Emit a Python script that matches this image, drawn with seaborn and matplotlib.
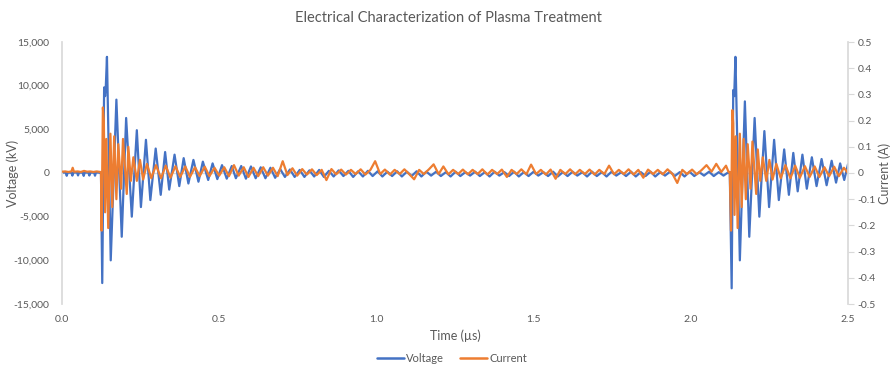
import matplotlib
matplotlib.use("Agg")
import matplotlib.pyplot as plt
from matplotlib.lines import Line2D
from matplotlib.ticker import FuncFormatter
import seaborn as sns
import pandas as pd

# ---------------- data (time in µs) ----------------
voltage_pre = [(0.000, 50), (0.012, 50), (0.015, -320), (0.018, 50), (0.030, 40), (0.033, -300),
               (0.036, 50), (0.048, 60), (0.051, -280), (0.054, 50), (0.066, 40), (0.069, -330),
               (0.072, 50), (0.084, 50), (0.087, -290), (0.090, 40), (0.102, 50), (0.105, -310),
               (0.108, 60), (0.120, 40)]

voltage_burst1 = [(0.124, 0), (0.128, -12600), (0.134, 9800), (0.137, 8800), (0.139, 9600),
                  (0.143, 13300), (0.155, -10000), (0.173, 8400), (0.190, -7300), (0.204, 6300),
                  (0.222, -5000), (0.238, 4900), (0.251, -3900), (0.267, 3800), (0.281, -3100),
                  (0.298, 2800), (0.314, -2500), (0.328, 2400), (0.341, -1900), (0.358, 2100),
                  (0.373, -1500), (0.387, 1700), (0.402, -1200), (0.418, 1500), (0.434, -1000),
                  (0.448, 1300), (0.465, -800), (0.479, 1100), (0.494, -700), (0.509, 900),
                  (0.524, -650), (0.540, 800), (0.553, -600), (0.570, 800), (0.585, -650),
                  (0.601, 750), (0.616, -600), (0.632, 650), (0.647, -600), (0.663, 600),
                  (0.678, -550), (0.694, 450), (0.709, -450), (0.725, 400), (0.740, -450)]

voltage_quiet = [(0.756, 350), (0.771, -450), (0.787, 300), (0.802, -400), (0.818, 350), (0.833, -450),
                 (0.849, 250), (0.864, -400), (0.880, 300), (0.895, -350), (0.911, 250), (0.926, -450),
                 (0.942, 200), (0.957, -400), (0.973, 250), (0.988, -350), (1.004, 200), (1.019, -400),
                 (1.035, 150), (1.050, -350), (1.066, 200), (1.081, -400), (1.097, 150), (1.112, -350),
                 (1.128, 200), (1.143, -400), (1.159, 150), (1.174, -300), (1.190, 150), (1.205, -350),
                 (1.221, 100), (1.236, -400), (1.252, 150), (1.267, -350), (1.283, 100), (1.298, -300),
                 (1.314, 150), (1.329, -350), (1.345, 100), (1.360, -400), (1.376, 150), (1.391, -300),
                 (1.407, 100), (1.422, -350), (1.438, 150), (1.453, -400), (1.469, 100), (1.484, -350),
                 (1.500, 150), (1.515, -300), (1.531, 100), (1.546, -350), (1.562, 150), (1.577, -400),
                 (1.593, 100), (1.608, -350), (1.624, 150), (1.639, -300), (1.655, 100), (1.670, -400),
                 (1.686, 150), (1.701, -350), (1.717, 100), (1.732, -400), (1.748, 150), (1.763, -300),
                 (1.779, 100), (1.794, -350), (1.810, 150), (1.825, -400), (1.841, 100), (1.856, -350),
                 (1.872, 150), (1.887, -400), (1.903, 100), (1.918, -300), (1.934, 150), (1.949, -350),
                 (1.965, 100), (1.980, -400), (1.996, 150), (2.011, -350), (2.027, 100), (2.042, -300),
                 (2.058, 150), (2.073, -350), (2.089, 100), (2.104, -300), (2.118, 50)]

voltage_burst2 = [(2.124, 0), (2.130, -13200), (2.135, 9500), (2.138, 8800), (2.142, 13300),
                  (2.156, -10000), (2.172, 8200), (2.186, -7300), (2.203, 6300), (2.218, -5000),
                  (2.234, 4800), (2.249, -3900), (2.265, 3800), (2.280, -3100), (2.297, 2700),
                  (2.312, -2500), (2.326, 2300), (2.340, -2100), (2.355, 2100), (2.369, -1800),
                  (2.385, 1800), (2.400, -1500), (2.416, 1600), (2.432, -1400), (2.448, 1400),
                  (2.462, -1100), (2.475, 1100), (2.488, -800), (2.500, 1000)]

current_pre = [(0.000, 0.005), (0.010, 0.006), (0.020, 0.004), (0.030, 0.006), (0.034, 0.020),
               (0.038, 0.005), (0.050, 0.006), (0.060, 0.004), (0.070, 0.008), (0.080, 0.005),
               (0.090, 0.006), (0.100, 0.004), (0.110, 0.006), (0.122, 0.004)]

current_burst1 = [(0.124, 0.0), (0.126, -0.22), (0.130, 0.25), (0.133, 0.20), (0.137, -0.15),
                  (0.141, 0.13), (0.147, -0.21), (0.154, 0.15), (0.160, -0.13), (0.166, 0.14),
                  (0.173, -0.10), (0.179, 0.11), (0.188, -0.06), (0.194, 0.13), (0.206, -0.08),
                  (0.211, 0.10), (0.219, -0.03), (0.227, 0.06), (0.238, -0.03), (0.248, 0.05),
                  (0.258, -0.025), (0.270, 0.035), (0.284, -0.02), (0.299, 0.03), (0.315, -0.02),
                  (0.330, 0.028), (0.345, -0.018), (0.361, 0.026), (0.376, -0.015), (0.392, 0.025),
                  (0.407, -0.015), (0.423, 0.022), (0.438, -0.012), (0.454, 0.024), (0.469, -0.012),
                  (0.485, 0.020), (0.500, -0.010), (0.516, 0.022), (0.531, -0.012), (0.547, 0.030),
                  (0.562, -0.010), (0.578, 0.022), (0.593, -0.015), (0.609, 0.020), (0.624, -0.012),
                  (0.640, 0.022), (0.655, -0.010), (0.671, 0.020), (0.686, -0.012), (0.702, 0.045),
                  (0.717, -0.008), (0.733, 0.018), (0.748, -0.010)]

current_quiet = [(0.764, 0.015), (0.779, -0.006), (0.795, 0.014), (0.810, -0.008), (0.826, 0.012),
                 (0.841, -0.027), (0.857, 0.015), (0.872, -0.005), (0.888, 0.013), (0.903, -0.006),
                 (0.919, 0.012), (0.934, -0.004), (0.950, 0.014), (0.965, -0.006), (0.981, 0.012),
                 (0.996, 0.045), (1.012, -0.004), (1.027, 0.013), (1.043, -0.006), (1.058, 0.012),
                 (1.074, -0.004), (1.089, 0.014), (1.105, -0.005), (1.120, -0.024), (1.136, 0.012),
                 (1.151, -0.004), (1.167, 0.014), (1.182, 0.033), (1.198, -0.004), (1.213, 0.025),
                 (1.229, -0.005), (1.244, 0.012), (1.260, -0.004), (1.275, 0.013), (1.291, -0.005),
                 (1.306, 0.012), (1.322, -0.004), (1.337, 0.014), (1.353, -0.006), (1.368, 0.012),
                 (1.384, -0.004), (1.399, 0.013), (1.415, -0.015), (1.430, 0.012), (1.446, -0.004),
                 (1.461, 0.014), (1.477, -0.005), (1.492, 0.032), (1.508, -0.004), (1.523, 0.012),
                 (1.539, -0.006), (1.554, 0.013), (1.570, -0.022), (1.585, 0.012), (1.601, -0.004),
                 (1.616, 0.014), (1.632, -0.005), (1.647, 0.012), (1.663, -0.004), (1.678, 0.013),
                 (1.694, -0.006), (1.709, 0.012), (1.725, -0.004), (1.740, 0.028), (1.756, -0.005),
                 (1.771, 0.012), (1.787, -0.004), (1.802, 0.014), (1.818, -0.006), (1.833, 0.012),
                 (1.849, -0.018), (1.864, 0.013), (1.880, -0.004), (1.895, 0.012), (1.911, -0.005),
                 (1.926, 0.014), (1.942, -0.004), (1.957, -0.038), (1.973, 0.012), (1.988, -0.004),
                 (2.004, 0.013), (2.019, -0.005), (2.035, 0.012), (2.050, 0.030), (2.066, 0.005),
                 (2.081, 0.035), (2.097, 0.004), (2.112, 0.028), (2.120, 0.004)]

current_burst2 = [(2.124, 0.004), (2.128, -0.22), (2.132, 0.24), (2.135, 0.19), (2.139, -0.16),
                  (2.143, 0.14), (2.149, -0.21), (2.156, 0.15), (2.162, -0.13), (2.168, 0.13),
                  (2.175, -0.10), (2.181, 0.11), (2.190, -0.06), (2.196, 0.12), (2.208, -0.08),
                  (2.213, 0.09), (2.221, -0.03), (2.229, 0.06), (2.240, -0.03), (2.250, 0.05),
                  (2.260, -0.025), (2.272, 0.035), (2.286, -0.02), (2.301, 0.03), (2.317, -0.02),
                  (2.332, 0.028), (2.347, -0.018), (2.363, 0.026), (2.378, -0.015), (2.394, 0.025),
                  (2.409, -0.015), (2.425, 0.022), (2.440, -0.012), (2.456, 0.024), (2.471, -0.012),
                  (2.487, 0.020), (2.500, 0.0)]

x_ticks = [0.0, 0.5, 1.0, 1.5, 2.0, 2.5]
v_ticks = [-15000, -10000, -5000, 0, 5000, 10000, 15000]
i_ticks = [-0.5, -0.4, -0.3, -0.2, -0.1, 0.0, 0.1, 0.2, 0.3, 0.4, 0.5]

title = "Electrical Characterization of Plasma Treatment"

# ---------------- build frames ----------------
vdf = pd.DataFrame(voltage_pre + voltage_burst1 + voltage_quiet + voltage_burst2,
                   columns=["time", "voltage"])
idf = pd.DataFrame(current_pre + current_burst1 + current_quiet + current_burst2,
                   columns=["time", "current"])

# ---------------- styling ----------------
sns.set_theme(style="white")
plt.rcParams["font.family"] = ["Lato", "DejaVu Sans"]

BLUE = "#4472C4"
ORANGE = "#ED7D31"
GRID = "#D9D9D9"
TXT = "#595959"

fig = plt.figure(figsize=(8.95, 3.67), dpi=100)
ax = fig.add_axes([62 / 895, 1 - 304 / 367, (848 - 62) / 895, (304 - 42) / 367])
ax2 = ax.twinx()

ax.axhline(0, color=GRID, lw=1, zorder=0)
sns.lineplot(data=vdf, x="time", y="voltage", ax=ax, color=BLUE, lw=1.6,
             estimator=None, sort=False)
sns.lineplot(data=idf, x="time", y="current", ax=ax2, color=ORANGE, lw=1.6,
             estimator=None, sort=False)

ax.set_xlim(0, 2.5)
ax.set_ylim(-15000, 15000)
ax2.set_ylim(-0.5, 0.5)
ax.set_xticks(x_ticks)
ax.set_yticks(v_ticks)
ax2.set_yticks(i_ticks)
ax.xaxis.set_major_formatter(FuncFormatter(lambda v, p: f"{v:.1f}"))
ax.yaxis.set_major_formatter(FuncFormatter(lambda v, p: f"{int(v):,}"))
ax2.yaxis.set_major_formatter(FuncFormatter(lambda v, p: "0" if abs(v) < 1e-9 else f"{v:.1f}"))

for a in (ax, ax2):
    for s in ("top", "bottom"):
        a.spines[s].set_visible(False)
ax.spines["left"].set_color(GRID)
ax.spines["right"].set_visible(False)
ax2.spines["left"].set_visible(False)
ax2.spines["right"].set_color(GRID)

ax.tick_params(axis="y", length=0, pad=9, labelsize=7.5, labelcolor=TXT)
ax.tick_params(axis="x", length=0, pad=8, labelsize=7.5, labelcolor=TXT)
ax2.tick_params(axis="y", length=4, width=0.8, color=GRID, pad=3, labelsize=7.5, labelcolor=TXT)

ax.set_xlabel("Time (µs)", fontsize=9, color=TXT, labelpad=4)
ax.set_ylabel("")
ax2.set_ylabel("")
fig.text(13 / 895, 1 - 173 / 367, "Voltage (kV)", rotation=90, ha="center", va="center",
         fontsize=9, color=TXT)
fig.text(885 / 895, 1 - 173 / 367, "Current (A)", rotation=90, ha="center", va="center",
         fontsize=9, color=TXT)

fig.text(448 / 895, 1 - 18 / 367, title, ha="center", va="center", fontsize=10.5, color=TXT)

handles = [Line2D([], [], color=BLUE, lw=1.8), Line2D([], [], color=ORANGE, lw=1.8)]
fig.legend(handles, ["Voltage", "Current"], loc="center", bbox_to_anchor=(452 / 895, 1 - 358 / 367),
           ncol=2, frameon=False, fontsize=8, handlelength=2.4, handletextpad=0.2,
           columnspacing=1.5, labelcolor=TXT)

fig.savefig("out.png", dpi=100)
